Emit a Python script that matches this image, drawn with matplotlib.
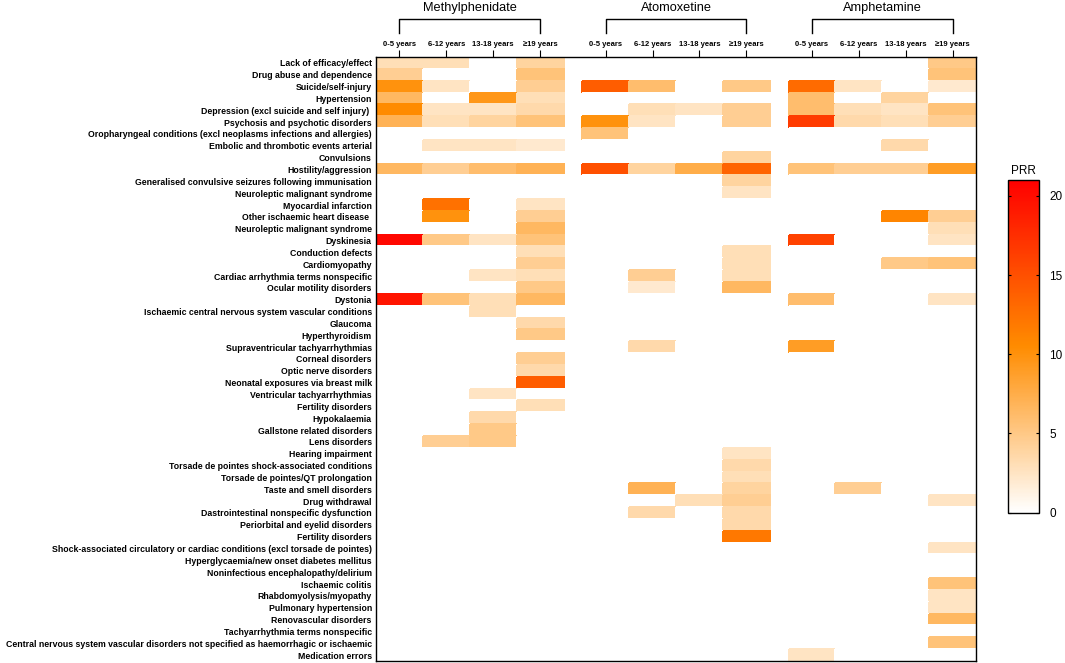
import numpy as np
import matplotlib
matplotlib.use('Agg')
import matplotlib.pyplot as plt
from matplotlib.colors import LinearSegmentedColormap
from matplotlib.transforms import blended_transform_factory


drugs = ['Methylphenidate', 'Atomoxetine', 'Amphetamine']
age_groups = ['0-5 years', '6-12 years', '13-18 years', '\u226519 years']

events = [
	'Lack of efficacy/effect',
	'Drug abuse and dependence',
	'Suicide/self-injury',
	'Hypertension',
	'Depression (excl suicide and self injury) ',
	'Psychosis and psychotic disorders',
	'Oropharyngeal conditions (excl neoplasms infections and allergies)',
	'Embolic and thrombotic events arterial',
	'Convulsions',
	'Hostility/aggression',
	'Generalised convulsive seizures following immunisation',
	'Neuroleptic malignant syndrome',
	'Myocardial infarction',
	'Other ischaemic heart disease ',
	'Neuroleptic malignant syndrome',
	'Dyskinesia',
	'Conduction defects',
	'Cardiomyopathy',
	'Cardiac arrhythmia terms nonspecific',
	'Ocular motility disorders',
	'Dystonia',
	'Ischaemic central nervous system vascular conditions',
	'Glaucoma',
	'Hyperthyroidism',
	'Supraventricular tachyarrhythmias',
	'Corneal disorders',
	'Optic nerve disorders',
	'Neonatal exposures via breast milk',
	'Ventricular tachyarrhythmias',
	'Fertility disorders',
	'Hypokalaemia',
	'Gallstone related disorders',
	'Lens disorders',
	'Hearing impairment',
	'Torsade de pointes shock-associated conditions',
	'Torsade de pointes/QT prolongation',
	'Taste and smell disorders',
	'Drug withdrawal',
	'Dastrointestinal nonspecific dysfunction',
	'Periorbital and eyelid disorders',
	'Fertility disorders',
	'Shock-associated circulatory or cardiac conditions (excl torsade de pointes)',
	'Hyperglycaemia/new onset diabetes mellitus',
	'Noninfectious encephalopathy/delirium',
	'Ischaemic colitis',
	'Rhabdomyolysis/myopathy',
	'Pulmonary hypertension',
	'Renovascular disorders',
	'Tachyarrhythmia terms nonspecific',
	'Central nervous system vascular disorders not specified as haemorrhagic or ischaemic',
	'Medication errors',
]

# PRR per event (rows) and age group (0-5, 6-12, 13-18, >=19); 0 = no signal
methylphenidate = [
	[3, 3, 0, 4],
	[4.5, 0, 0, 5.5],
	[10, 2.5, 0, 4.5],
	[6.5, 0, 9.5, 3],
	[10.5, 2.5, 2.5, 3.5],
	[7, 3, 4, 5.5],
	[0, 0, 0, 0],
	[0, 2.5, 2.5, 2],
	[0, 0, 0, 0],
	[6.5, 4.5, 6, 7],
	[0, 0, 0, 0],
	[0, 0, 0, 0],
	[0, 12.5, 0, 2.5],
	[0, 10, 0, 4.5],
	[0, 0, 0, 6.5],
	[20.5, 5, 2.5, 5.5],
	[0, 0, 0, 3],
	[0, 0, 0, 4.5],
	[0, 0, 2.5, 3],
	[0, 0, 0, 5],
	[19.5, 5.5, 3, 6.5],
	[0, 0, 3, 0],
	[0, 0, 0, 3.5],
	[0, 0, 0, 5],
	[0, 0, 0, 0],
	[0, 0, 0, 4.5],
	[0, 0, 0, 3.5],
	[0, 0, 0, 14],
	[0, 0, 2.5, 0],
	[0, 0, 0, 3],
	[0, 0, 3.5, 0],
	[0, 0, 5, 0],
	[0, 4.5, 5, 0],
	[0, 0, 0, 0],
	[0, 0, 0, 0],
	[0, 0, 0, 0],
	[0, 0, 0, 0],
	[0, 0, 0, 0],
	[0, 0, 0, 0],
	[0, 0, 0, 0],
	[0, 0, 0, 0],
	[0, 0, 0, 0],
	[0, 0, 0, 0],
	[0, 0, 0, 0],
	[0, 0, 0, 0],
	[0, 0, 0, 0],
	[0, 0, 0, 0],
	[0, 0, 0, 0],
	[0, 0, 0, 0],
	[0, 0, 0, 0],
	[0, 0, 0, 0],
]

atomoxetine = [
	[0, 0, 0, 0],
	[0, 0, 0, 0],
	[14, 6, 0, 5],
	[0, 0, 0, 0],
	[0, 3, 2.5, 4.5],
	[10, 2.5, 0, 4.5],
	[5.5, 0, 0, 0],
	[0, 0, 0, 0],
	[0, 0, 0, 4],
	[15, 4, 7.5, 13.5],
	[0, 0, 0, 4],
	[0, 0, 0, 2.5],
	[0, 0, 0, 0],
	[0, 0, 0, 0],
	[0, 0, 0, 0],
	[0, 0, 0, 0],
	[0, 0, 0, 3],
	[0, 0, 0, 3],
	[0, 4.5, 0, 3],
	[0, 2, 0, 6.5],
	[0, 0, 0, 0],
	[0, 0, 0, 0],
	[0, 0, 0, 0],
	[0, 0, 0, 0],
	[0, 3.5, 0, 0],
	[0, 0, 0, 0],
	[0, 0, 0, 0],
	[0, 0, 0, 0],
	[0, 0, 0, 0],
	[0, 0, 0, 0],
	[0, 0, 0, 0],
	[0, 0, 0, 0],
	[0, 0, 0, 0],
	[0, 0, 0, 2.5],
	[0, 0, 0, 3.5],
	[0, 0, 0, 3],
	[0, 7, 0, 4],
	[0, 0, 3, 4.5],
	[0, 3.5, 0, 3.5],
	[0, 0, 0, 3.5],
	[0, 0, 0, 12],
	[0, 0, 0, 0],
	[0, 0, 0, 0],
	[0, 0, 0, 0],
	[0, 0, 0, 0],
	[0, 0, 0, 0],
	[0, 0, 0, 0],
	[0, 0, 0, 0],
	[0, 0, 0, 0],
	[0, 0, 0, 0],
	[0, 0, 0, 0],
]

amphetamine = [
	[0, 0, 0, 5],
	[0, 0, 0, 5.5],
	[13, 2.5, 0, 2],
	[6, 0, 4, 0],
	[6, 3, 2.5, 5.5],
	[16.5, 3.5, 3, 4.5],
	[0, 0, 0, 0],
	[0, 0, 3.5, 0],
	[0, 0, 0, 0],
	[5.5, 4.5, 4.5, 9],
	[0, 0, 0, 0],
	[0, 0, 0, 0],
	[0, 0, 0, 0],
	[0, 0, 11, 4.5],
	[0, 0, 0, 3],
	[16, 0, 0, 2.5],
	[0, 0, 0, 0],
	[0, 0, 5, 5.5],
	[0, 0, 0, 0],
	[0, 0, 0, 0],
	[6, 0, 0, 2.5],
	[0, 0, 0, 0],
	[0, 0, 0, 0],
	[0, 0, 0, 0],
	[9, 0, 0, 0],
	[0, 0, 0, 0],
	[0, 0, 0, 0],
	[0, 0, 0, 0],
	[0, 0, 0, 0],
	[0, 0, 0, 0],
	[0, 0, 0, 0],
	[0, 0, 0, 0],
	[0, 0, 0, 0],
	[0, 0, 0, 0],
	[0, 0, 0, 0],
	[0, 0, 0, 0],
	[0, 4.5, 0, 0],
	[0, 0, 0, 2.5],
	[0, 0, 0, 0],
	[0, 0, 0, 0],
	[0, 0, 0, 0],
	[0, 0, 0, 2.5],
	[0, 0, 0, 0],
	[0, 0, 0, 0],
	[0, 0, 0, 5.5],
	[0, 0, 0, 2.5],
	[0, 0, 0, 2.5],
	[0, 0, 0, 6.5],
	[0, 0, 0, 0],
	[0, 0, 0, 5.5],
	[2.5, 0, 0, 0],
]

prr_max = 21

plt.rcParams['font.family'] = ['Liberation Sans', 'DejaVu Sans']

cmap = LinearSegmentedColormap.from_list('prr', [(0, '#ffffff'), (0.5, '#ff8c00'), (1, '#ff0000')])
cmap.set_bad('white')

fig = plt.figure(figsize=(10.65, 6.63), dpi=100)
ax = fig.add_axes([376 / 1065, 2 / 663, 600 / 1065, 604 / 663])

gap = 4.4
n_rows = len(events)
y_edges = np.arange(n_rows + 1)
centers = []
for g, data in enumerate([methylphenidate, atomoxetine, amphetamine]):
	vals = np.ma.masked_equal(np.array(data, dtype=float), 0)
	x_edges = g * gap + np.arange(5)
	mesh = ax.pcolormesh(x_edges, y_edges, vals, cmap=cmap, vmin=0, vmax=prr_max,
		edgecolors='face', linewidth=0.3)
	centers.extend(list(x_edges[:-1] + 0.5))

ax.set_xlim(0, 2 * gap + 4)
ax.set_ylim(n_rows, 0)

ax.set_yticks(np.arange(n_rows) + 0.5)
ax.set_yticklabels(events, fontsize=6.3, fontweight='bold')
ax.tick_params(axis='y', length=0, pad=3)

ax.xaxis.tick_top()
ax.set_xticks(centers)
ax.set_xticklabels(age_groups * 3, fontsize=5.5, fontweight='bold')
ax.tick_params(axis='x', length=5, width=0.8, pad=1.5, direction='out')

for s in ax.spines.values():
	s.set_linewidth(1)

# Drug brackets above the age group labels
trans = blended_transform_factory(ax.transData, ax.transAxes)
for g, drug in enumerate(drugs):
	x0 = g * gap + 0.5
	x1 = g * gap + 3.5
	ax.plot([x0, x0, x1, x1], [1.040, 1.063, 1.063, 1.040], color='black', lw=1,
		transform=trans, clip_on=False)
	ax.text((x0 + x1) / 2, 1.081, drug, transform=trans, ha='center', va='center', fontsize=9.2)

# Colour bar
cax = fig.add_axes([1008 / 1065, 1 - 512.5 / 663, 31 / 1065, 332.5 / 663])
cb = fig.colorbar(mesh, cax=cax, ticks=[0, 5, 10, 15, 20])
cb.outline.set_linewidth(1)
cax.tick_params(labelsize=8.5, length=2.5, width=0.8, direction='in', left=True, right=True, pad=7.5)
cax.set_title('PRR', fontsize=8.5, pad=4)

fig.savefig('out.png', dpi=100)
